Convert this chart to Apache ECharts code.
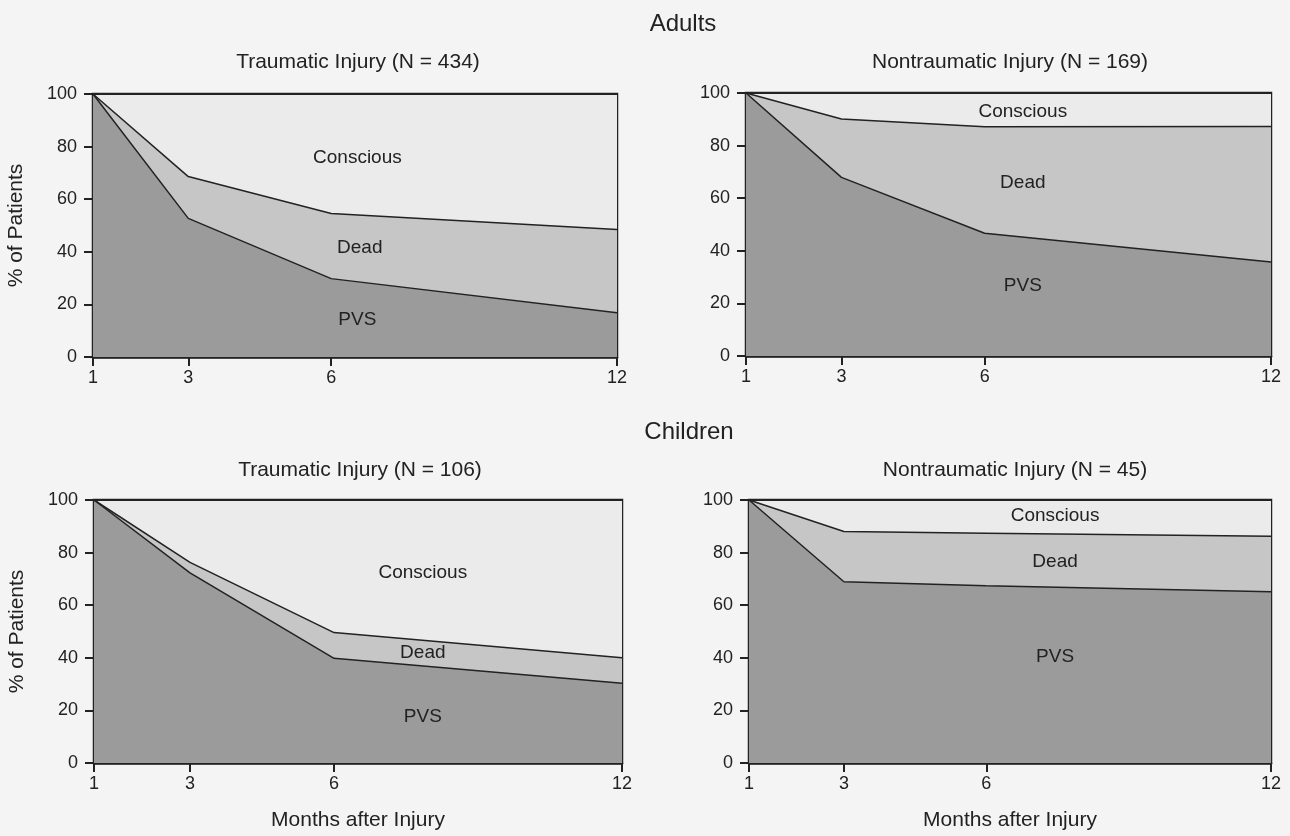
<!DOCTYPE html>
<html>
<head>
<meta charset="utf-8">
<script src="https://cdn.jsdelivr.net/npm/echarts@6/dist/echarts.min.js"></script>
<style>
html,body{margin:0;padding:0;background:#f4f4f4;}
#main{width:1290px;height:836px;}
</style>
</head>
<body>
<div id="main"></div>
<script>
var months = [1, 3, 6, 12];

// % in PVS and % dead at each month
var adultTraumaPVS = [100, 52.7, 29.8, 16.8];
var adultTraumaDead = [0, 15.9, 24.8, 31.7];
var adultNonPVS = [100, 67.9, 46.7, 35.7];
var adultNonDead = [0, 22.2, 40.5, 51.6];
var childTraumaPVS = [100, 72.3, 39.8, 30.3];
var childTraumaDead = [0, 4, 9.8, 9.7];
var childNonPVS = [100, 68.9, 67.4, 65.1];
var childNonDead = [0, 19.1, 20, 21.1];

var panelTitles = ['Traumatic Injury (N = 434)', 'Nontraumatic Injury (N = 169)',
                   'Traumatic Injury (N = 106)', 'Nontraumatic Injury (N = 45)'];

var fontFam = '"Liberation Sans", Arial, sans-serif';
var ink = '#222';

var grids = [
    {left: 93, right: 673, top: 94, height: 263},
    {left: 746, right: 19, top: 93, height: 263},
    {left: 94, right: 668, top: 500, height: 263},
    {left: 749, right: 19, top: 500, height: 263}
];
// where the area names sit, in data units [month, %]
var labelSpots = [
    [[6.55, 75.7], [6.6, 41.4], [6.55, 14]],
    [[6.8, 93], [6.8, 66], [6.8, 26.6]],
    [[7.85, 72.5], [7.85, 42], [7.85, 17.6]],
    [[7.45, 94], [7.45, 76.4], [7.45, 40.3]]
];
var pvsSets = [adultTraumaPVS, adultNonPVS, childTraumaPVS, childNonPVS];
var deadSets = [adultTraumaDead, adultNonDead, childTraumaDead, childNonDead];

// cumulative boundaries: PVS, PVS+Dead, PVS+Dead+Conscious
function pvsLine(pvs) {
    return months.map(function (m, i) { return [m, pvs[i]]; });
}
function deadLine(pvs, dead) {
    return months.map(function (m, i) { return [m, pvs[i] + dead[i]]; });
}
function allLine(pvs, dead) {
    return months.map(function (m, i) {
        var conscious = 100 - pvs[i] - dead[i];
        return [m, pvs[i] + dead[i] + conscious];
    });
}
function tag(name, spot) {
    return {
        symbolSize: 0,
        label: {show: true, position: 'inside', color: ink, fontSize: 19, fontFamily: fontFam, formatter: name},
        data: [{coord: spot}]
    };
}

var xAxes = [], yAxes = [], series = [];
grids.forEach(function (g, k) {
    xAxes.push({
        gridIndex: k, type: 'value', min: 1, max: 12,
        name: k >= 2 ? 'Months after Injury' : '',
        nameLocation: 'middle', nameGap: 47,
        nameTextStyle: {color: ink, fontSize: 21, fontFamily: fontFam},
        splitLine: {show: false},
        axisLine: {lineStyle: {color: ink, width: 2.5}},
        axisTick: {customValues: months, length: 9, lineStyle: {color: ink, width: 2}},
        axisLabel: {customValues: months, color: ink, fontSize: 18, fontFamily: fontFam, margin: 12}
    });
    yAxes.push({
        gridIndex: k, type: 'value', min: 0, max: 100, interval: 20,
        name: (k % 2 === 0) ? '% of Patients' : '',
        nameLocation: 'middle', nameGap: 66, nameRotate: 90,
        nameTextStyle: {color: ink, fontSize: 21, fontFamily: fontFam},
        splitLine: {show: false},
        axisLine: {show: true, lineStyle: {color: ink, width: 2}},
        axisTick: {show: true, length: 9, lineStyle: {color: ink, width: 2}},
        axisLabel: {color: ink, fontSize: 18, fontFamily: fontFam, margin: 16}
    });
    var common = {type: 'line', xAxisIndex: k, yAxisIndex: k,
                  symbol: 'none', silent: true, animation: false};
    series.push(Object.assign({}, common, {
        name: 'Conscious', data: allLine(pvsSets[k], deadSets[k]),
        lineStyle: {color: ink, width: 2}, areaStyle: {color: '#ebebeb', opacity: 1},
        markPoint: tag('Conscious', labelSpots[k][0])
    }));
    series.push(Object.assign({}, common, {
        name: 'Dead', data: deadLine(pvsSets[k], deadSets[k]),
        lineStyle: {color: ink, width: 1.5}, areaStyle: {color: '#c6c6c6', opacity: 1},
        markPoint: tag('Dead', labelSpots[k][1])
    }));
    series.push(Object.assign({}, common, {
        name: 'PVS', data: pvsLine(pvsSets[k]),
        lineStyle: {color: ink, width: 1.5}, areaStyle: {color: '#9b9b9b', opacity: 1},
        markPoint: tag('PVS', labelSpots[k][2])
    }));
});

var titleTops = [[353, 47], [1005, 47], [355, 455], [1010, 455]];
var titles = [
    {text: 'Adults', left: 678, top: 7, textAlign: 'center',
     textStyle: {color: ink, fontSize: 24, fontWeight: 'normal', fontFamily: fontFam}},
    {text: 'Children', left: 684, top: 415, textAlign: 'center',
     textStyle: {color: ink, fontSize: 24, fontWeight: 'normal', fontFamily: fontFam}}
];
panelTitles.forEach(function (t, k) {
    titles.push({text: t, left: titleTops[k][0], top: titleTops[k][1], textAlign: 'center',
                 textStyle: {color: ink, fontSize: 21, fontWeight: 'normal', fontFamily: fontFam}});
});

var myChart = echarts.init(document.getElementById('main'));
myChart.setOption({
    backgroundColor: '#f4f4f4',
    animation: false,
    title: titles,
    grid: grids.map(function (g) {
        return Object.assign({show: true, borderColor: ink, borderWidth: 2.5, backgroundColor: 'transparent'}, g);
    }),
    xAxis: xAxes,
    yAxis: yAxes,
    series: series
});
</script>
</body>
</html>
